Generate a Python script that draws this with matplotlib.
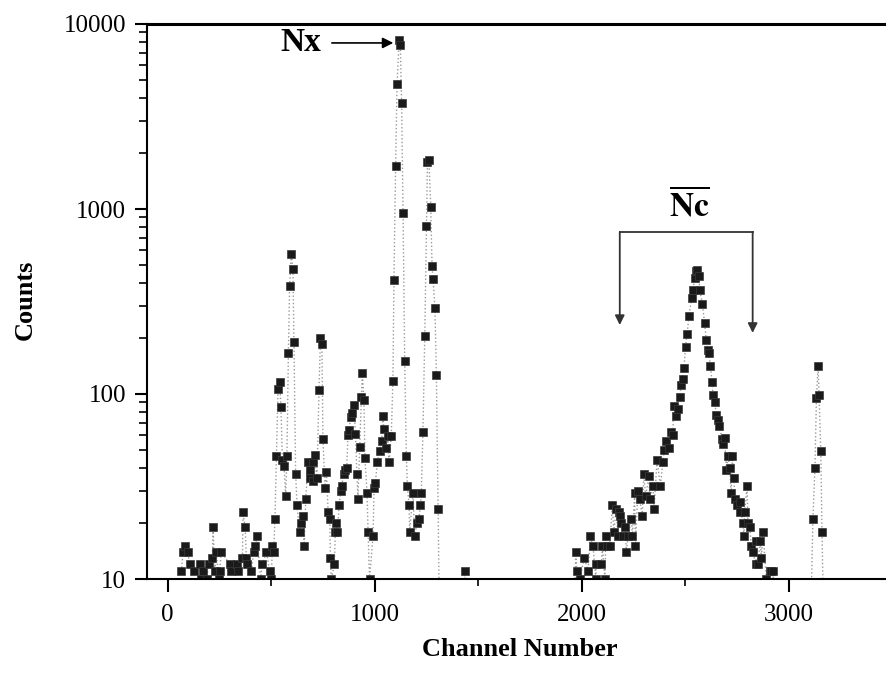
import matplotlib
matplotlib.use("Agg")
import matplotlib.pyplot as plt
from matplotlib.ticker import FixedLocator, MultipleLocator, LogLocator, NullFormatter

plt.rcParams["font.family"] = ["Liberation Serif", "DejaVu Serif"]
plt.rcParams["mathtext.fontset"] = "stix"

# spectrum: channel, counts (values < 10 fall below the axis)
channel = [
    66, 74, 82, 97, 106, 126, 158, 160, 169, 188, 198, 216, 219, 227, 235, 246,
    251, 259, 300, 305, 337, 340, 361, 364, 374, 380, 385, 404, 415, 422, 432,
    449, 457, 477, 493, 500, 506, 512, 518,
    525, 533, 541, 547, 554, 562, 570, 576, 583, 589, 597, 605, 610, 618, 625,
    638, 646, 654, 659, 667, 678, 686, 689, 700, 702, 710, 721, 731, 738, 745,
    750, 760, 767, 775, 783, 786, 790, 805, 810, 815, 820, 828, 836, 841, 850,
    858, 865, 871, 876, 884, 892, 900, 907, 914, 919, 928, 936, 940, 948, 953,
    963, 968, 975, 992, 997, 1003, 1013, 1024, 1034, 1039, 1045, 1057, 1064,
    1069, 1080, 1088, 1093, 1101, 1108, 1118, 1124, 1130, 1137, 1145, 1153,
    1158, 1166, 1169, 1185, 1193, 1204, 1213, 1221, 1225, 1233, 1242, 1250,
    1255, 1262, 1271, 1277, 1282, 1291, 1298, 1306, 1314,
    1427, 1435, 1443,
    1962, 1971, 1977, 1990, 2013, 2031, 2042, 2055, 2068, 2071, 2095, 2100,
    2112, 2117, 2122, 2135, 2148, 2155, 2167, 2175, 2180, 2187, 2192, 2200,
    2208, 2216, 2224, 2240, 2245, 2256, 2259, 2272, 2280, 2293, 2300, 2309,
    2325, 2329, 2344, 2350, 2364, 2380, 2393, 2398, 2409, 2422, 2433, 2440,
    2444, 2457, 2465, 2473, 2481, 2489, 2494, 2502, 2509, 2518, 2531, 2538,
    2546, 2554, 2557, 2567, 2570, 2583, 2594, 2602, 2610, 2615, 2622, 2630,
    2634, 2642, 2651, 2658, 2663, 2680, 2684, 2691, 2699, 2707, 2715, 2722,
    2728, 2736, 2739, 2750, 2763, 2765, 2779, 2784, 2787, 2799, 2803, 2812,
    2820, 2827, 2841, 2844, 2851, 2863, 2868, 2876, 2892, 2908, 2916, 2924,
    2935,
    3105, 3117, 3127, 3134, 3142, 3147, 3155, 3161, 3170,
]
counts = [
    11, 14, 15, 14, 12, 11, 12, 10, 11, 10, 12, 13, 19, 11, 14, 10,
    11, 14, 12, 11, 12, 11, 13, 23, 19, 13, 12, 11, 14, 15, 17,
    10, 12, 14, 11, 10, 15, 14, 21,
    46, 107, 116, 85, 44, 41, 28, 46, 167, 384, 571, 472, 190, 37, 25,
    18, 20, 22, 15, 27, 43, 39, 35, 34, 43, 47, 35, 105, 201, 186,
    57, 31, 38, 23, 21, 13, 10, 12, 18, 20, 18, 25, 30, 32, 37,
    39, 40, 60, 64, 75, 79, 87, 61, 37, 27, 52, 96, 130, 93, 45,
    29, 18, 10, 17, 31, 33, 43, 49, 56, 76, 65, 51, 59,
    43, 59, 118, 413, 1700, 4740, 8200, 7660, 3725, 955, 150, 46,
    32, 25, 18, 29, 17, 20, 21, 25, 29, 62, 207, 813,
    1800, 1840, 1020, 490, 418, 290, 127, 24, 5,
    5, 11, 5,
    5, 14, 11, 10, 13, 11, 17, 15, 10, 12, 12, 15,
    10, 17, 15, 15, 25, 18, 24, 17, 23, 22, 20, 17,
    19, 14, 17, 21, 17, 29, 15, 30, 27, 22, 37, 28,
    36, 27, 32, 24, 44, 32, 43, 50, 56, 51, 62, 60,
    86, 76, 83, 96, 112, 120, 138, 180, 210, 263, 330, 365,
    422, 464, 467, 432, 367, 308, 241, 195, 173, 166, 142, 116,
    99, 91, 77, 72, 67, 57, 54, 58, 39, 46, 40, 29,
    46, 35, 27, 25, 23, 26, 20, 17, 23, 32, 20, 19,
    15, 14, 12, 16, 12, 16, 13, 18, 10, 11, 11, 11,
    5,
    5, 21, 40, 95, 142, 99, 49, 18, 5,
]

x_ticks = [0, 1000, 2000, 3000]
y_ticks = [10, 100, 1000, 10000]
y_labels = ["10", "100", "1000", "10000"]

fig = plt.figure(figsize=(8.87, 6.87), dpi=100)
ax = fig.add_axes([147 / 887, 1 - 579 / 687, 1 - 147 / 887, (579 - 24) / 687])

ax.plot(channel, counts, linestyle=":", color="#9a9a9a", linewidth=1.0,
        marker="s", markersize=5.2, markerfacecolor="#1a1a1a",
        markeredgecolor="#3a3a3a", markeredgewidth=0.5)

ax.set_yscale("log")
ax.set_xlim(-100, 3475)
ax.set_ylim(10, 10000)

ax.xaxis.set_major_locator(FixedLocator(x_ticks))
ax.xaxis.set_minor_locator(MultipleLocator(500))
ax.yaxis.set_major_locator(FixedLocator(y_ticks))
ax.yaxis.set_major_formatter(plt.FixedFormatter(y_labels))
ax.yaxis.set_minor_locator(LogLocator(base=10, subs=range(2, 10)))
ax.yaxis.set_minor_formatter(NullFormatter())

ax.tick_params(which="major", direction="out", length=9, width=1.5,
               labelsize=18, pad=6)
ax.tick_params(axis="x", which="major", pad=9)
ax.tick_params(which="minor", direction="out", length=5, width=1.2)
ax.tick_params(axis="y", which="minor", length=6)
ax.spines["right"].set_visible(False)
for side in ["left", "bottom"]:
    ax.spines[side].set_linewidth(1.5)
ax.spines["top"].set_linewidth(2.2)

fig.text(520 / 887, 1 - 650 / 687, "Channel Number", ha="center", va="center",
         fontsize=19, fontweight="bold")
fig.text(25 / 887, 1 - 300 / 687, "Counts", ha="center", va="center",
         rotation=90, fontsize=19, fontweight="bold")

# Nx arrow towards the main peak
ax.text(643, 7900, "Nx", ha="center", va="center", fontsize=24, fontweight="bold")
ax.annotate("", xy=(1090, 7900), xytext=(793, 7900),
            arrowprops=dict(arrowstyle="-|>", color="black", lw=1.2,
                            mutation_scale=16, shrinkA=0, shrinkB=0))

# Nc bracket
left_x, right_x, top_y = 2184, 2826, 752
ax.plot([left_x, right_x], [top_y, top_y], color="#333333", lw=1.3)
ax.annotate("", xy=(left_x, 236), xytext=(left_x, top_y),
            arrowprops=dict(arrowstyle="-|>", color="#333333", lw=1.3,
                            mutation_scale=14, shrinkA=0, shrinkB=0))
ax.annotate("", xy=(right_x, 214), xytext=(right_x, top_y),
            arrowprops=dict(arrowstyle="-|>", color="#333333", lw=1.3,
                            mutation_scale=14, shrinkA=0, shrinkB=0))
ax.text(2522, 1050, r"$\mathbf{\overline{Nc}}$", ha="center", va="center",
        fontsize=24)

fig.savefig("out.png", dpi=100)
